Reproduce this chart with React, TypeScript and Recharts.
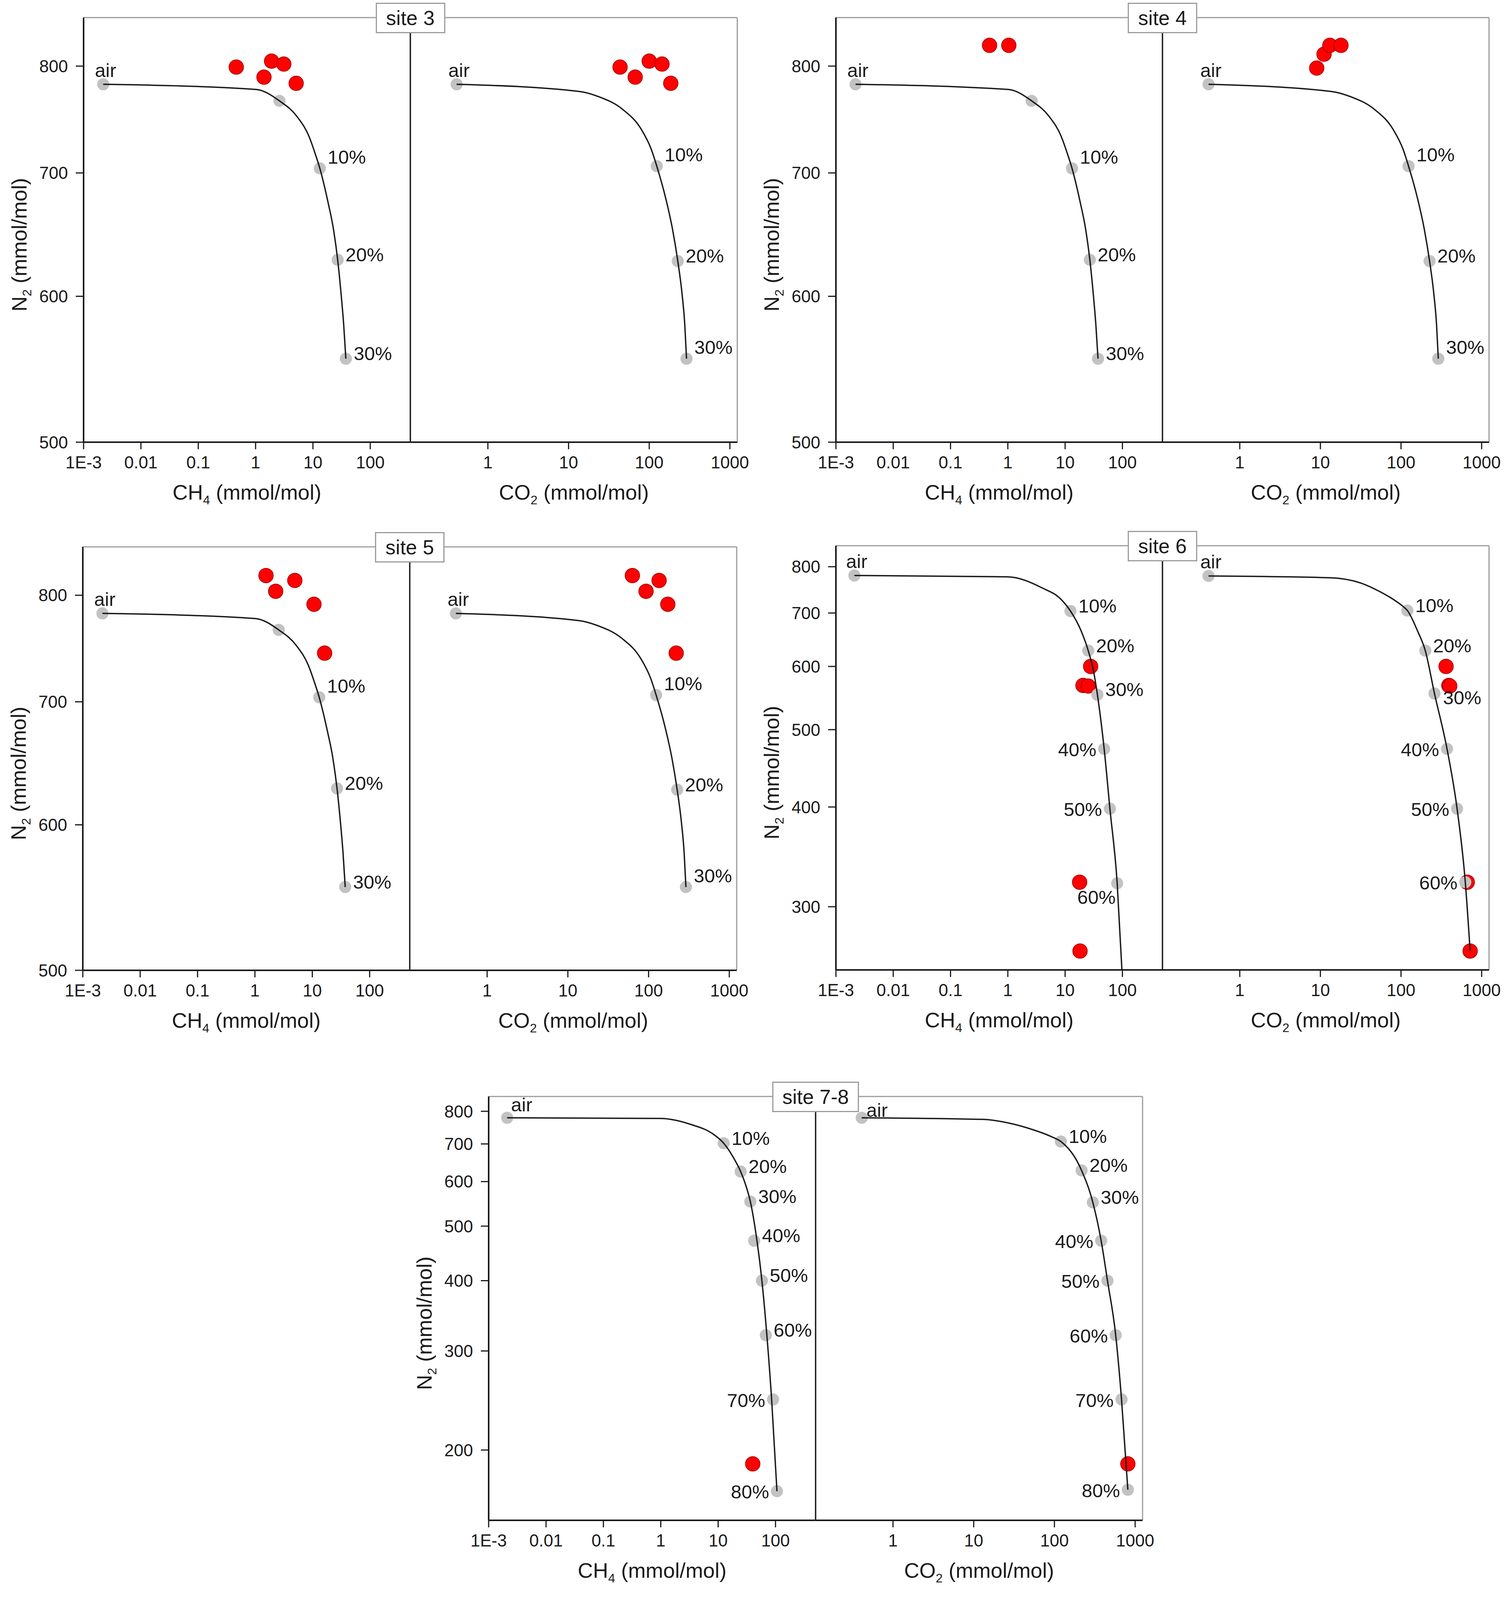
import { ScatterChart, Scatter, XAxis, YAxis, ReferenceLine } from "recharts";

const FONT = "'Liberation Sans', Arial, Helvetica, sans-serif";
const INK = "#1a1a1a";
const FRAME = "#9c9c9c";
const RED = "#ff0000";
const RED_EDGE = "#b00000";
const GREY = "#c2c2c2";

const Y_AXIS_W = 200;
const X_AXIS_H = 180;
const PAD = 10;
const RIGHT_PAD = 90;

// axes
const ch4Domain = [0.001, 500];
const co2Domain = [0.11, 1235];
const ch4Ticks = [0.001, 0.01, 0.1, 1, 10, 100];
const co2Ticks = [1, 10, 100, 1000];
const n2DomainTop = [500, 850];
const n2DomainSite6 = [250, 850];
const n2DomainSite78 = [150, 850];
const n2TicksTop = [500, 600, 700, 800];
const n2TicksSite6 = [300, 400, 500, 600, 700, 800];
const n2TicksSite78 = [200, 300, 400, 500, 600, 700, 800];

// air / end-member mixing line used for sites 3-5
const mixACurveCh4 = [0.0022, 1.02, 2.6, 5.3, 8.5, 10.8, 13.2, 18.1, 22.9, 27, 30.8, 34.4, 37.5];
const mixACurveCh4N2 = [782, 777, 766, 751, 733, 718, 704, 676, 652, 628, 603, 579, 555];
const mixACurveCo2 = [0.41, 13.7, 23.6, 46.6, 80, 106, 124, 163, 195, 226, 254, 276, 290];
const mixACurveCo2N2 = [782, 775, 770, 758, 739, 721, 706, 676, 652, 627, 603, 579, 555];
const mixAMarkCh4 = [0.0022, 2.6, 13.2, 27, 37.5];
const mixAMarkCh4N2 = [782, 766, 704, 628, 555];
const mixAMarkCh4Labels = ["air", "", "10%", "20%", "30%"];
const mixAMarkCh4Sides = ["a", "", "ru", "r", "r"];
const mixAMarkCo2 = [0.41, 124, 226, 290];
const mixAMarkCo2N2 = [782, 706, 627, 555];
const mixAMarkCo2Labels = ["air", "10%", "20%", "30%"];
const mixAMarkCo2Sides = ["a", "ru", "r", "ru"];

// site 6 mixing line
const mix6CurveCh4 = [0.0021, 1.0, 3.9, 8.5, 12.4, 19.0, 25.3, 31.6, 36.6, 48, 60.5, 81, 98];
const mix6CurveCh4N2 = [780, 777, 753, 728, 704, 665, 628, 590, 553, 473, 398, 321, 250];
const mix6CurveCo2 = [0.41, 13, 32, 54, 82, 105, 120, 160, 200, 260, 372, 496, 627, 720];
const mix6CurveCo2N2 = [779, 775, 763, 745, 727, 714, 705, 665, 628, 555, 473, 398, 322, 264];
const mix6MarkCh4 = [0.0021, 12.4, 25.3, 36.6, 48, 60.5, 81];
const mix6MarkCh4N2 = [780, 704, 628, 553, 473, 398, 321];
const mix6MarkCh4Sides = ["a", "r", "r", "r", "l", "l", "bl"];
const mix6MarkCo2 = [0.41, 120, 200, 260, 372, 496, 627];
const mix6MarkCo2N2 = [779, 705, 628, 555, 473, 398, 322];
const mix6MarkCo2Sides = ["a", "r", "r", "rd", "l", "l", "l"];
const mix6Labels = ["air", "10%", "20%", "30%", "40%", "50%", "60%"];

// site 7-8 mixing line
const mix78CurveCh4 = [0.0021, 1.0, 3.5, 8.0, 12.5, 18, 24.7, 30.5, 36.4, 47.5, 57.9, 70.7, 85.6, 106];
const mix78CurveCh4N2 = [779, 777, 757, 730, 702, 665, 625, 590, 553, 471, 400, 320, 246, 169];
const mix78CurveCo2 = [0.41, 13, 30, 54, 90, 120, 217, 299, 379, 454, 574, 678, 812];
const mix78CurveCo2N2 = [779, 774, 760, 742, 722, 707, 628, 551, 471, 400, 320, 246, 170];
const mix78MarkCh4 = [0.0021, 12.5, 24.7, 36.4, 42.5, 58, 67.8, 90.7, 106];
const mix78MarkCh4N2 = [779, 702, 625, 553, 471, 400, 320, 246, 169];
const mix78MarkCh4Sides = ["ar", "r", "r", "r", "r", "r", "r", "l", "l"];
const mix78MarkCo2 = [0.41, 120, 217, 299, 379, 454, 574, 678, 812];
const mix78MarkCo2N2 = [779, 707, 628, 551, 471, 400, 320, 246, 170];
const mix78MarkCo2Sides = ["ar2", "r", "r", "r", "l", "l", "l", "l", "l"];
const mix78Labels = ["air", "10%", "20%", "30%", "40%", "50%", "60%", "70%", "80%"];

// measured samples
const site3Ch4 = [0.46, 1.9, 3.1, 1.4, 5.1];
const site3Co2 = [43.5, 100, 144, 67, 185];
const site3N2 = [799, 805, 802, 789, 783];

const site4Ch4 = [0.48, 1.04];
const site4Ch4N2 = [821, 821];
const site4Co2 = [9.0, 11.1, 13.1, 18];
const site4Co2N2 = [798, 812, 821, 821];

const site5Ch4 = [1.56, 2.3, 4.96, 10.7, 16.4];
const site5Co2 = [63, 93, 135, 173, 220];
const site5N2 = [820, 804, 815, 791, 744];

const site6Ch4 = [27.9, 20.5, 25.3, 17.9, 18.2];
const site6Co2 = [362, 392, 402, 663, 720];
const site6N2 = [600, 568, 567, 322, 264];

const site78Ch4 = [40.1];
const site78Co2 = [812];
const site78N2 = [189];

// panel frames on the page (plot area edges, px); the captured page is only
// about 4100px tall, so the vertical layout is packed to fit inside it
const GEO3 = { L: 214, R: 1887, T: 45, B: 1132 };
const GEO4 = { L: 2140, R: 3812, T: 45, B: 1132 };
const GEO5 = { L: 212, R: 1886, T: 1400, B: 2484 };
const GEO6 = { L: 2140, R: 3812, T: 1397, B: 2483 };
const GEO78 = { L: 1251, R: 2925, T: 2807, B: 3892 };

const LABEL_OFFSETS: Record<string, { dx: number; dy: number; anchor: string }> = {
  a: { dx: 6, dy: -36, anchor: "middle" },
  ar: { dx: 10, dy: -34, anchor: "start" },
  ar2: { dx: 12, dy: -20, anchor: "start" },
  r: { dx: 20, dy: -13, anchor: "start" },
  ru: { dx: 20, dy: -29, anchor: "start" },
  rd: { dx: 22, dy: 11, anchor: "start" },
  l: { dx: -20, dy: 2, anchor: "end" },
  bl: { dx: -4, dy: 36, anchor: "end" },
};

type Pt = { x: number; y: number; label?: string; side?: string };

const pts = (xs: number[], ys: number[], labels?: string[], sides?: string[]): Pt[] =>
  xs.map((x, i) => ({ x, y: ys[i], label: labels ? labels[i] : undefined, side: sides ? sides[i] : undefined }));

const RedDot = (p: any) => (
  <circle cx={p.cx} cy={p.cy} r={18.5} fill={RED} stroke={RED_EDGE} strokeWidth={2} />
);

const GreyDot = (p: any) => {
  const d = p.payload || p;
  const o = d.side ? LABEL_OFFSETS[d.side] : undefined;
  return (
    <g>
      <circle cx={p.cx} cy={p.cy} r={15.5} fill={GREY} />
      {d.label && o ? (
        <text
          x={p.cx + o.dx}
          y={p.cy + o.dy}
          textAnchor={o.anchor as any}
          dominantBaseline="central"
          fontSize={49}
          fill={INK}
        >
          {d.label}
        </text>
      ) : null}
    </g>
  );
};

const NoDot = () => <g />;

const fmtTick = (v: number) => (v === 0.001 ? "1E-3" : String(v));

type HalfProps = {
  left: boolean;
  gas: "CH4" | "CO2";
  hw: number;
  plotH: number;
  yDomain: number[];
  yTicks: number[];
  curve: Pt[];
  marks: Pt[];
  samples: Pt[];
};

function Half({ left, gas, hw, plotH, yDomain, yTicks, curve, marks, samples }: HalfProps) {
  const xDomain = gas === "CH4" ? ch4Domain : co2Domain;
  const xTicks = gas === "CH4" ? ch4Ticks : co2Ticks;
  const plotX = left ? Y_AXIS_W : PAD;
  const rightPad = left ? PAD : RIGHT_PAD;
  const width = plotX + hw + rightPad;
  const height = PAD + plotH + X_AXIS_H;
  const yc = PAD + plotH / 2 + 38;

  const xTitle = () => (
    <text x={plotX + hw / 2} y={PAD + plotH + 128} textAnchor="middle" dominantBaseline="central" fontSize={54} fill={INK}>
      {gas === "CH4" ? "CH" : "CO"}
      <tspan fontSize={32} dy={20}>
        {gas === "CH4" ? "4" : "2"}
      </tspan>
      <tspan dy={-20}> (mmol/mol)</tspan>
    </text>
  );

  const yTitle = () => (
    <text
      x={35}
      y={yc}
      transform={`rotate(-90 35 ${yc})`}
      textAnchor="middle"
      dominantBaseline="central"
      fontSize={54}
      fill={INK}
    >
      N
      <tspan fontSize={32} dy={20}>
        2
      </tspan>
      <tspan dy={-20}> (mmol/mol)</tspan>
    </text>
  );

  return (
    <ScatterChart
      width={width}
      height={height}
      margin={{ top: PAD, right: rightPad, bottom: 0, left: left ? 0 : PAD }}
    >
      <XAxis
        type="number"
        dataKey="x"
        scale="log"
        domain={xDomain}
        allowDataOverflow
        ticks={xTicks}
        interval={0}
        tickFormatter={fmtTick}
        height={X_AXIS_H}
        tickSize={18}
        tickMargin={18}
        axisLine={{ stroke: INK, strokeWidth: 4 }}
        tickLine={{ stroke: INK, strokeWidth: 3 }}
        tick={{ fill: INK, fontSize: 44 }}
        label={xTitle}
      />
      <YAxis
        type="number"
        dataKey="y"
        scale="log"
        domain={yDomain}
        allowDataOverflow
        ticks={yTicks}
        interval={0}
        hide={!left}
        width={Y_AXIS_W}
        tickSize={20}
        tickMargin={20}
        axisLine={{ stroke: INK, strokeWidth: 4 }}
        tickLine={{ stroke: INK, strokeWidth: 3 }}
        tick={{ fill: INK, fontSize: 44 }}
        label={left ? yTitle : undefined}
      />
      <ReferenceLine y={yDomain[1]} stroke={FRAME} strokeWidth={3} ifOverflow="visible" />
      <ReferenceLine
        x={xDomain[1]}
        stroke={left ? INK : FRAME}
        strokeWidth={left ? 3.5 : 3}
        ifOverflow="visible"
      />
      <Scatter data={samples} shape={RedDot} isAnimationActive={false} />
      <Scatter data={marks} shape={GreyDot} isAnimationActive={false} />
      <Scatter
        data={curve}
        shape={NoDot}
        line={{ stroke: INK, strokeWidth: 3.5 }}
        lineJointType="monotoneX"
        isAnimationActive={false}
      />
    </ScatterChart>
  );
}

type GasSet = { curve: Pt[]; marks: Pt[]; samples: Pt[] };
type PanelProps = {
  title: string;
  geo: { L: number; R: number; T: number; B: number };
  yDomain: number[];
  yTicks: number[];
  ch4: GasSet;
  co2: GasSet;
};

function Panel({ title, geo, yDomain, yTicks, ch4, co2 }: PanelProps) {
  const hw = (geo.R - geo.L) / 2;
  const plotH = geo.B - geo.T;
  const mid = geo.L + hw;
  const boxW = title.length > 6 ? 222 : 178;
  return (
    <>
      <div style={{ position: "absolute", left: geo.L - Y_AXIS_W, top: geo.T - PAD }}>
        <Half left gas="CH4" hw={hw} plotH={plotH} yDomain={yDomain} yTicks={yTicks} {...ch4} />
      </div>
      <div style={{ position: "absolute", left: mid - PAD, top: geo.T - PAD }}>
        <Half left={false} gas="CO2" hw={hw} plotH={plotH} yDomain={yDomain} yTicks={yTicks} {...co2} />
      </div>
      <div
        style={{
          position: "absolute",
          left: mid - boxW / 2,
          top: geo.T - 38,
          width: boxW,
          height: 78,
          boxSizing: "border-box",
          border: `3px solid ${FRAME}`,
          background: "#fff",
          display: "flex",
          alignItems: "center",
          justifyContent: "center",
          fontSize: 52,
          color: INK,
        }}
      >
        {title}
      </div>
    </>
  );
}

const mixACh4 = {
  curve: pts(mixACurveCh4, mixACurveCh4N2),
  marks: pts(mixAMarkCh4, mixAMarkCh4N2, mixAMarkCh4Labels, mixAMarkCh4Sides),
};
const mixACo2 = {
  curve: pts(mixACurveCo2, mixACurveCo2N2),
  marks: pts(mixAMarkCo2, mixAMarkCo2N2, mixAMarkCo2Labels, mixAMarkCo2Sides),
};

const panels: PanelProps[] = [
  {
    title: "site 3",
    geo: GEO3,
    yDomain: n2DomainTop,
    yTicks: n2TicksTop,
    ch4: { ...mixACh4, samples: pts(site3Ch4, site3N2) },
    co2: { ...mixACo2, samples: pts(site3Co2, site3N2) },
  },
  {
    title: "site 4",
    geo: GEO4,
    yDomain: n2DomainTop,
    yTicks: n2TicksTop,
    ch4: { ...mixACh4, samples: pts(site4Ch4, site4Ch4N2) },
    co2: { ...mixACo2, samples: pts(site4Co2, site4Co2N2) },
  },
  {
    title: "site 5",
    geo: GEO5,
    yDomain: n2DomainTop,
    yTicks: n2TicksTop,
    ch4: { ...mixACh4, samples: pts(site5Ch4, site5N2) },
    co2: { ...mixACo2, samples: pts(site5Co2, site5N2) },
  },
  {
    title: "site 6",
    geo: GEO6,
    yDomain: n2DomainSite6,
    yTicks: n2TicksSite6,
    ch4: {
      curve: pts(mix6CurveCh4, mix6CurveCh4N2),
      marks: pts(mix6MarkCh4, mix6MarkCh4N2, mix6Labels, mix6MarkCh4Sides),
      samples: pts(site6Ch4, site6N2),
    },
    co2: {
      curve: pts(mix6CurveCo2, mix6CurveCo2N2),
      marks: pts(mix6MarkCo2, mix6MarkCo2N2, mix6Labels, mix6MarkCo2Sides),
      samples: pts(site6Co2, site6N2),
    },
  },
  {
    title: "site 7-8",
    geo: GEO78,
    yDomain: n2DomainSite78,
    yTicks: n2TicksSite78,
    ch4: {
      curve: pts(mix78CurveCh4, mix78CurveCh4N2),
      marks: pts(mix78MarkCh4, mix78MarkCh4N2, mix78Labels, mix78MarkCh4Sides),
      samples: pts(site78Ch4, site78N2),
    },
    co2: {
      curve: pts(mix78CurveCo2, mix78CurveCo2N2),
      marks: pts(mix78MarkCo2, mix78MarkCo2N2, mix78Labels, mix78MarkCo2Sides),
      samples: pts(site78Co2, site78N2),
    },
  },
];

export default function App() {
  return (
    <div
      style={{
        position: "absolute",
        left: 0,
        top: 0,
        width: 3858,
        height: 4812,
        background: "#fff",
        fontFamily: FONT,
        overflow: "hidden",
      }}
    >
      {panels.map((p) => (
        <Panel key={p.title} {...p} />
      ))}
    </div>
  );
}
